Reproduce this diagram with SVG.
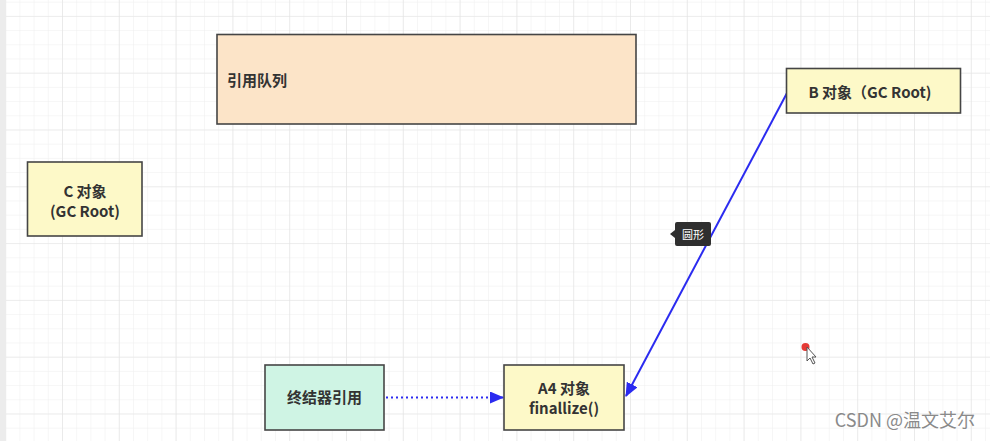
<svg xmlns="http://www.w3.org/2000/svg" width="990" height="441" viewBox="0 0 990 441">
<defs>
<pattern id="minor" x="5.2" y="15.9" width="14.2" height="14.2" patternUnits="userSpaceOnUse">
<path d="M0 0 H14.2 M0 0 V14.2" fill="none" stroke="#eeeeee" stroke-width="1"/>
</pattern>
<pattern id="major" x="5.2" y="15.9" width="56.8" height="56.8" patternUnits="userSpaceOnUse">
<path d="M0 0 H56.8 M0 0 V56.8" fill="none" stroke="#e3e3e3" stroke-width="1.2"/>
</pattern>
<marker id="tri" markerWidth="14" markerHeight="12" refX="13" refY="6" orient="auto" markerUnits="userSpaceOnUse">
<path d="M0 0 L14 6 L0 12 Z" fill="#2b2bf0"/>
</marker>
<style>
.box{stroke:#454545;stroke-width:1.6}
.t{font-family:"Noto Sans CJK SC","Liberation Sans",sans-serif;font-weight:bold;font-size:15px;fill:#333}
.c{text-anchor:middle}
</style>
</defs>
<rect width="990" height="441" fill="#ffffff"/>
<rect width="990" height="441" fill="url(#minor)"/>
<rect width="990" height="441" fill="url(#major)"/>
<rect x="0" y="0" width="6" height="441" fill="#ececec"/>

<g id="connectors">
<line x1="386" y1="397.5" x2="503" y2="397.5" stroke="#2b2bf0" stroke-width="2" stroke-dasharray="2 3" marker-end="url(#tri)"/>
<line x1="787" y1="93" x2="626" y2="396" stroke="#2b2bf0" stroke-width="2" marker-end="url(#tri)"/>
</g>

<g id="queue">
<rect class="box" x="217" y="34.5" width="419" height="89.5" fill="#fce4c8"/>
<text class="t" x="227" y="86">引用队列</text>
</g>

<g id="nodeC">
<rect class="box" x="27.5" y="162" width="114.5" height="74" fill="#fdf9c8"/>
<text class="t c" x="85" y="197">C 对象</text>
<text class="t c" x="85" y="217">(GC Root)</text>
</g>

<g id="nodeB">
<rect class="box" x="786.5" y="68.5" width="174" height="44.5" fill="#fdf9c8"/>
<text class="t c" x="870" y="98">B 对象（GC Root)</text>
</g>

<g id="finalizer">
<rect class="box" x="265" y="365" width="119" height="65" fill="#cff4e4"/>
<text class="t c" x="324.5" y="403">终结器引用</text>
</g>

<g id="nodeA4">
<rect class="box" x="504" y="365" width="120" height="65" fill="#fdf9c8"/>
<text class="t c" x="564" y="394">A4 对象</text>
<text class="t c" x="564" y="414">finallize()</text>
</g>

<g id="tooltip">
<path d="M677 222 H709 Q711 222 711 224 V244 Q711 246 709 246 H677 Q675 246 675 244 V238 L670 234 L675 230 V224 Q675 222 677 222 Z" fill="#2f2f2f"/>
<text x="693" y="238.5" font-family="Noto Sans CJK SC,sans-serif" font-size="11" fill="#ffffff" text-anchor="middle">圆形</text>
</g>

<g id="cursor">
<circle cx="805.5" cy="347" r="4" fill="#e53935"/>
<path d="M807 347 L807 361 L810 358 L813 364 L815 363 L812 357 L816 357 Z" fill="#ffffff" stroke="#555" stroke-width="1"/>
</g>

<text x="975" y="427" font-family="Noto Sans CJK SC,Liberation Sans,sans-serif" font-size="18" fill="#8a8a8a" text-anchor="end">CSDN @温文艾尔</text>
</svg>
